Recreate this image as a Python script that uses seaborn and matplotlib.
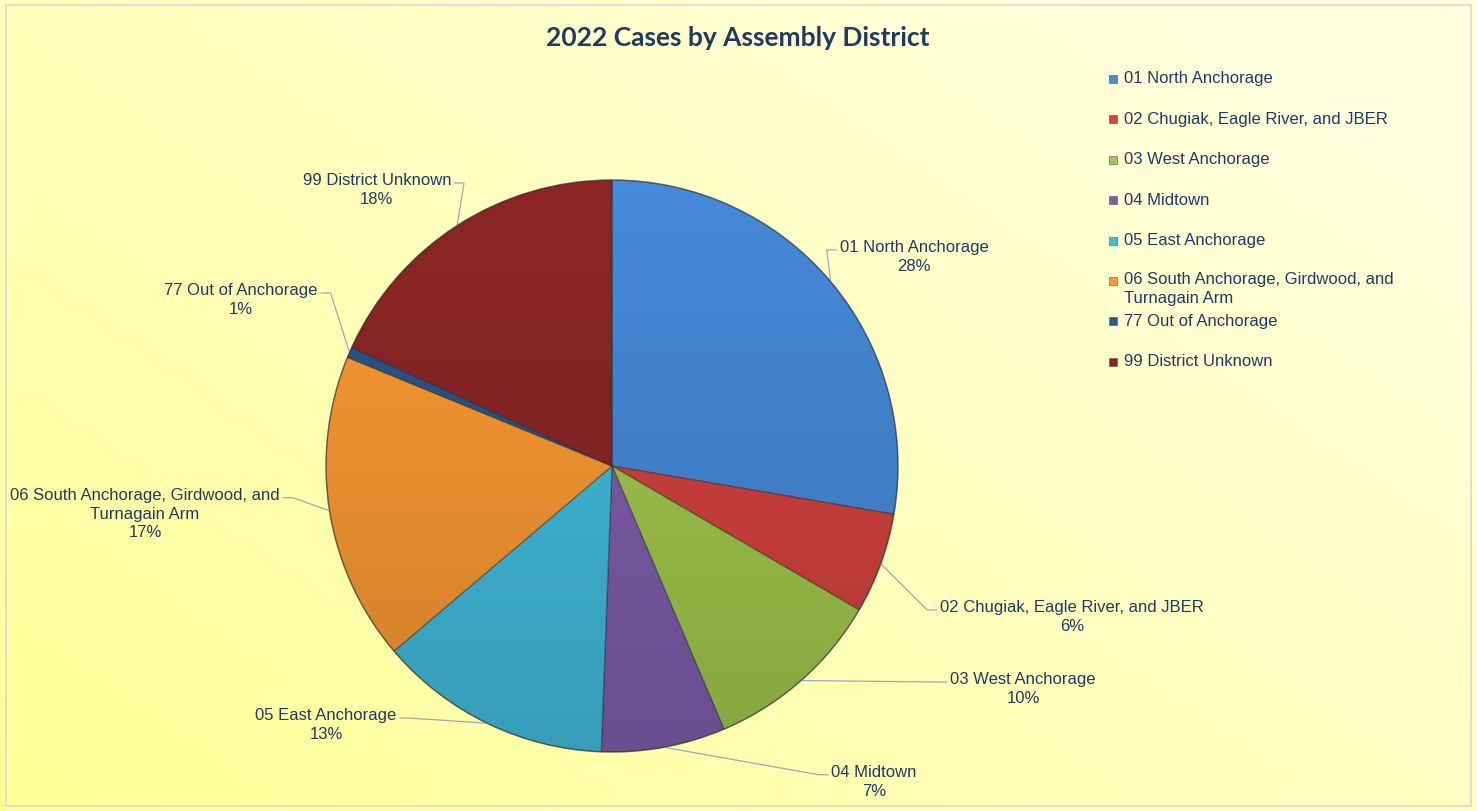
import numpy as np
import matplotlib
matplotlib.use("Agg")
import matplotlib.pyplot as plt
import seaborn as sns
from matplotlib.patches import Rectangle, Circle

# ---------------- data ----------------
districts = [
    "01 North Anchorage",
    "02 Chugiak, Eagle River, and JBER",
    "03 West Anchorage",
    "04 Midtown",
    "05 East Anchorage",
    "06 South Anchorage, Girdwood, and\nTurnagain Arm",
    "77 Out of Anchorage",
    "99 District Unknown",
]
case_share = [27.7, 5.7, 10.2, 7.0, 13.2, 17.4, 0.6, 18.2]
slice_colors = ["#468AD9", "#D5433F", "#A2C94D", "#805EAD",
                "#42BDDE", "#FB9A33", "#2C558C", "#8C2626"]
title_text = "2022 Cases by Assembly District"

# label text positions (in pie-radius units, pie centre = 0,0)
label_pos = [(1.056, 0.731), (1.608, -0.528), (1.437, -0.780), (0.916, -1.104),
             (-1.0, -0.906), (-1.633, -0.168), (-1.297, 0.580), (-0.822, 0.965)]

sns.set_theme(style="white")
plt.rcParams["font.family"] = ["Liberation Sans", "DejaVu Sans"]
navy = "#1F3B63"
FS = 12
LS = 1.3

W, H = 1477, 811
R = 286.0
cx, cy = 612.0, 466.0
fig = plt.figure(figsize=(W / 100, H / 100), dpi=100)

# background gradient
bg = fig.add_axes([0, 0, 1, 1])
bg.set_axis_off()
yy, xx = np.mgrid[0:1:200j, 0:1:360j]
t = np.clip((xx * 0.75 + yy * 0.6) / 1.2, 0, 1)  # 0 bottom-left, 1 top-right
c0 = np.array([255, 255, 150]) / 255
c1 = np.array([255, 255, 222]) / 255
img = c0[None, None, :] * (1 - t[..., None]) + c1[None, None, :] * t[..., None]
bg.imshow(img, extent=[0, 1, 0, 1], origin="lower", aspect="auto")
bg.set_xlim(0, 1)
bg.set_ylim(0, 1)
bg.add_patch(Rectangle((6 / W, 5 / H), (1471 - 6) / W, (806 - 5) / H,
                       fill=False, edgecolor="#D9D9D9", lw=1.2))

ax = fig.add_axes([0, 0, 1, 1])
ax.patch.set_alpha(0)
wedges, _ = ax.pie(case_share, colors=slice_colors, startangle=90,
                   counterclock=False, radius=1, center=(0, 0),
                   wedgeprops=dict(edgecolor=(0.1, 0.1, 0.1, 0.35), linewidth=1.0))
xlim = (-cx / R, (W - cx) / R)
ylim = (-(H - cy) / R, cy / R)
ax.set_xlim(*xlim)
ax.set_ylim(*ylim)
ax.set_aspect("auto")
ax.set_axis_off()

# subtle vertical shading over the pie
sh_y = np.linspace(0, 1, 256)[:, None]
shade = np.zeros((256, 2, 4))
shade[..., 3] = (0.17 * (1 - sh_y)) * np.ones((1, 2))
circ = Circle((0, 0), 1, transform=ax.transData, facecolor="none", edgecolor="none")
ax.add_patch(circ)
im = ax.imshow(shade, extent=[-1, 1, -1, 1], origin="lower", aspect="auto", zorder=3)
im.set_clip_path(circ)
ax.add_patch(Circle((0, 0), 1, facecolor="none", edgecolor=(0.15, 0.15, 0.2, 0.45),
                    lw=1.0, zorder=4))
ax.set_xlim(*xlim)
ax.set_ylim(*ylim)

total = sum(case_share)
texts = []
for name, val, pos in zip(districts, case_share, label_pos):
    txt = ax.text(pos[0], pos[1], f"{name}\n{val / total * 100:.0f}%",
                  ha="center", va="center", fontsize=FS, color=navy,
                  linespacing=LS, zorder=5)
    texts.append(txt)

fig.canvas.draw()
renderer = fig.canvas.get_renderer()
inv = ax.transData.inverted()
line_h = 19.5 / R  # one text line in data units
for w, txt in zip(wedges, texts):
    mid = np.deg2rad((w.theta1 + w.theta2) / 2)
    ex, ey = np.cos(mid), np.sin(mid)
    bb = txt.get_window_extent(renderer).transformed(inv)
    ty = bb.y1 - line_h * 0.5
    tx_center = (bb.x0 + bb.x1) / 2
    if tx_center > ex:
        end = bb.x0 - 0.01
        knee = end - 0.035
    else:
        end = bb.x1 + 0.01
        knee = end + 0.035
    ax.plot([ex, knee, end], [ey, ty, ty], color="#A0A8B8", lw=0.9, zorder=2,
            solid_capstyle="butt")

# title
fig.text(738 / W, 1 - 38 / H, title_text, ha="center", va="center",
         fontsize=19, fontweight="bold", color=navy, family=["Lato", "DejaVu Sans"])

# legend (manual, fixed row spacing as in the reference)
leg_x = 1113
leg_y0 = 79
leg_dy = 40.4
for i, (name, col) in enumerate(zip(districts, slice_colors)):
    y = leg_y0 + i * leg_dy
    fig.patches.append(Rectangle(((leg_x - 4) / W, 1 - (y + 4) / H), 8 / W, 8 / H,
                                 transform=fig.transFigure, facecolor=col,
                                 edgecolor="#555555", lw=0.4, figure=fig))
    if "\n" in name:
        fig.text((leg_x + 11) / W, 1 - (y - 9) / H, name, ha="left", va="top",
                 fontsize=FS, color=navy, linespacing=LS,
                 transform=fig.transFigure)
    else:
        fig.text((leg_x + 11) / W, 1 - y / H, name, ha="left", va="center",
                 fontsize=FS, color=navy, transform=fig.transFigure)

fig.savefig("out.png", dpi=100)
